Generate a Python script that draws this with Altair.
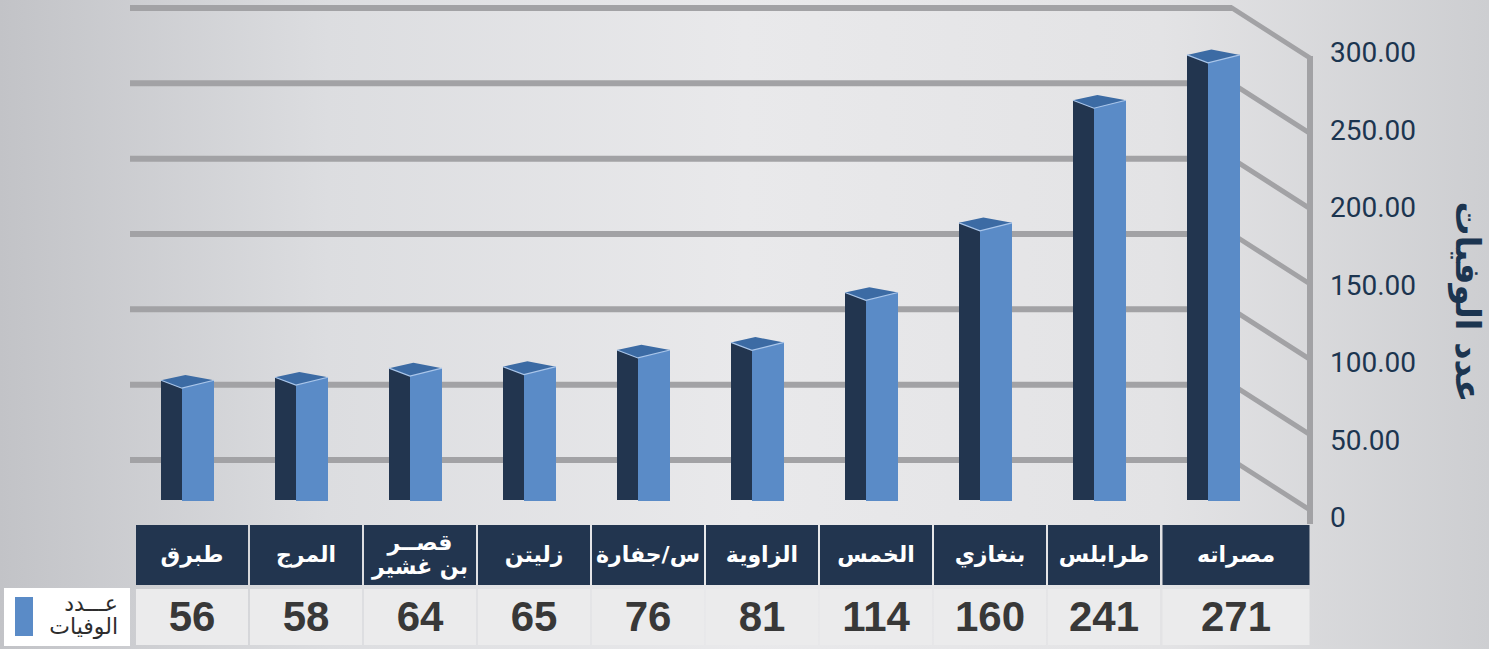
import altair as alt
import pandas as pd

# ---- data ----
cities = ["طبرق", "المرج", "قصــر\nبن غشير", "زليتن", "س/جفارة",
          "الزاوية", "الخمس", "بنغازي", "طرابلس", "مصراته"]
deaths = [56, 58, 64, 65, 76, 81, 114, 160, 241, 271]
ticks = [0, 50, 100, 150, 200, 250, 300]
axis_title = "عدد الوفيات"
legend_label = "عـــدد\nالوفيات"

df = pd.DataFrame({"city": cities, "deaths": deaths})
grid_df = pd.DataFrame({"v": ticks})
one = pd.DataFrame({"k": [0]})
last = cities[-1]

NAVY = "#22354f"
BLUE = "#5a8bc7"
TOP = "#3c6ba4"
GRID = "#a2a2a5"
LABEL = "#1c3550"
AR_FONT = "DejaVu Sans"

x_scale = alt.Scale(domain=cities, range=[135, 1275], paddingInner=0, paddingOuter=0)
X = alt.X("city:N", scale=x_scale, axis=None)

bar_scale = alt.Scale(domain=[0, 300], range=[465, 11], nice=False, zero=True)
back_scale = alt.Scale(domain=[0, 300], range=[460, 8], nice=False, zero=True)
label_scale = alt.Scale(domain=[0, 300], range=[519, 54], nice=False, zero=True)

# background
bg = alt.Chart(one).mark_rect(
    fill=alt.Gradient(
        gradient="linear",
        stops=[
            alt.GradientStop(color="#c2c3c7", offset=0),
            alt.GradientStop(color="#dcdde0", offset=0.22),
            alt.GradientStop(color="#e9e9eb", offset=0.5),
            alt.GradientStop(color="#e3e3e5", offset=0.78),
            alt.GradientStop(color="#cdced1", offset=1),
        ],
        x1=0, x2=1, y1=0, y2=0,
    )
).encode(x=alt.value(0), x2=alt.value(1489), y=alt.value(0), y2=alt.value(649))

# back wall grid lines
grid_h = alt.Chart(grid_df).mark_rule(color=GRID, strokeWidth=6).encode(
    x=alt.value(130), x2=alt.value(1232),
    y=alt.Y("v:Q", scale=back_scale, axis=None),
)
grid_d = alt.Chart(grid_df).mark_rule(color=GRID, strokeWidth=5, strokeCap="round", y2Offset=50).encode(
    x=alt.value(1232), x2=alt.value(1310),
    y=alt.Y("v:Q", scale=back_scale, axis=None),
    y2=alt.Y2("v:Q"),
)
wall = alt.Chart(one).mark_rule(color=GRID, strokeWidth=6).encode(
    x=alt.value(1310), y=alt.value(56), y2=alt.value(524)
)

# 3D-looking bars (front faces reach down to the floor's front edge)
Yb = alt.Y("deaths:Q", scale=bar_scale, axis=None, stack=None)
dark = alt.Chart(df).mark_bar(width=21, xOffset=-20.5, color=NAVY).encode(
    x=X, y=Yb, y2=alt.value(500))
blue = alt.Chart(df).mark_bar(width=32, xOffset=6, color=BLUE).encode(
    x=X, y=Yb, y2=alt.value(501))
top_face = alt.Chart(df).mark_point(
    shape="M -1 0 L -0.21 0.3 L 1 0 L -0.08 -0.2 Z", size=2809, filled=True,
    fill=TOP, strokeWidth=0, opacity=1, xOffset=-4.5,
).encode(x=X, y=Yb)
top_edge = alt.Chart(df).mark_point(
    shape="M -1 0 L -0.21 0.3 L 1 0", size=2809, filled=False,
    stroke="#aac6ea", strokeWidth=1.2, opacity=1, xOffset=-4.5,
).encode(x=X, y=Yb)

# right axis labels and title
labels = alt.Chart(grid_df).transform_calculate(
    lab="datum.v == 0 ? '0' : format(datum.v, '.2f')"
).mark_text(align="left", baseline="middle", font="Roboto", fontSize=28, color=LABEL).encode(
    x=alt.value(1330), y=alt.Y("v:Q", scale=label_scale, axis=None), text="lab:N"
)
title = alt.Chart(pd.DataFrame({"t": [axis_title]})).mark_text(
    angle=90, font=AR_FONT, fontWeight="bold", fontSize=34, color=LABEL,
    align="center", baseline="middle",
).encode(x=alt.value(1466), y=alt.value(302), text="t:N")

# table
not_last = alt.datum.city != last
is_last = alt.datum.city == last
multi = "indexof(datum.city, '\\n') >= 0"
single = "indexof(datum.city, '\\n') < 0"

head = alt.Chart(df).transform_filter(not_last).mark_bar(width=112, color=NAVY).encode(
    x=X, y=alt.value(525), y2=alt.value(585))
head_l = alt.Chart(df).transform_filter(is_last).mark_bar(width=147, xOffset=18, color=NAVY).encode(
    x=X, y=alt.value(525), y2=alt.value(585))
cell = alt.Chart(df).transform_filter(not_last).mark_bar(width=112, color="#ebebec").encode(
    x=X, y=alt.value(589), y2=alt.value(645))
cell_l = alt.Chart(df).transform_filter(is_last).mark_bar(width=147, xOffset=18, color="#ebebec").encode(
    x=X, y=alt.value(589), y2=alt.value(645))

htxt_kw = dict(font=AR_FONT, fontWeight="bold", fontSize=22, color="white",
               lineBreak="\n", baseline="middle", align="center", lineHeight=24)
htxt = alt.Chart(df).transform_filter(not_last).transform_filter(single).mark_text(**htxt_kw).encode(
    x=X, y=alt.value(555), text="city:N")
htxt_m = alt.Chart(df).transform_filter(multi).mark_text(**htxt_kw).encode(
    x=X, y=alt.value(543), text="city:N")
htxt_l = alt.Chart(df).transform_filter(is_last).mark_text(xOffset=18, **htxt_kw).encode(
    x=X, y=alt.value(555), text="city:N")

vtxt_kw = dict(font="Liberation Sans", fontWeight="bold", fontSize=42, color="#383838",
               baseline="middle", align="center")
vtxt = alt.Chart(df).transform_filter(not_last).mark_text(**vtxt_kw).encode(
    x=X, y=alt.value(618), text="deaths:Q")
vtxt_l = alt.Chart(df).transform_filter(is_last).mark_text(xOffset=18, **vtxt_kw).encode(
    x=X, y=alt.value(618), text="deaths:Q")

# legend
leg_box = alt.Chart(one).mark_rect(color="white").encode(
    x=alt.value(4), x2=alt.value(130), y=alt.value(588), y2=alt.value(646))
leg_sw = alt.Chart(one).mark_rect(color=BLUE).encode(
    x=alt.value(15), x2=alt.value(33), y=alt.value(597), y2=alt.value(636))
leg_txt = alt.Chart(pd.DataFrame({"t": [legend_label]})).mark_text(
    font=AR_FONT, fontSize=22, color="#2d2d2d", align="right", baseline="middle",
    lineBreak="\n", lineHeight=23,
).encode(x=alt.value(118), y=alt.value(604), text="t:N")

chart = alt.layer(
    bg, grid_h, grid_d, wall, dark, blue, top_face, top_edge, labels, title,
    head, head_l, cell, cell_l, htxt, htxt_m, htxt_l, vtxt, vtxt_l, leg_box, leg_sw, leg_txt,
).resolve_scale(y="independent").properties(
    width=1489, height=649, padding=0, autosize="none"
).configure_view(stroke=None)

chart.save("out.html", embed_options={"renderer": "svg", "actions": False})
